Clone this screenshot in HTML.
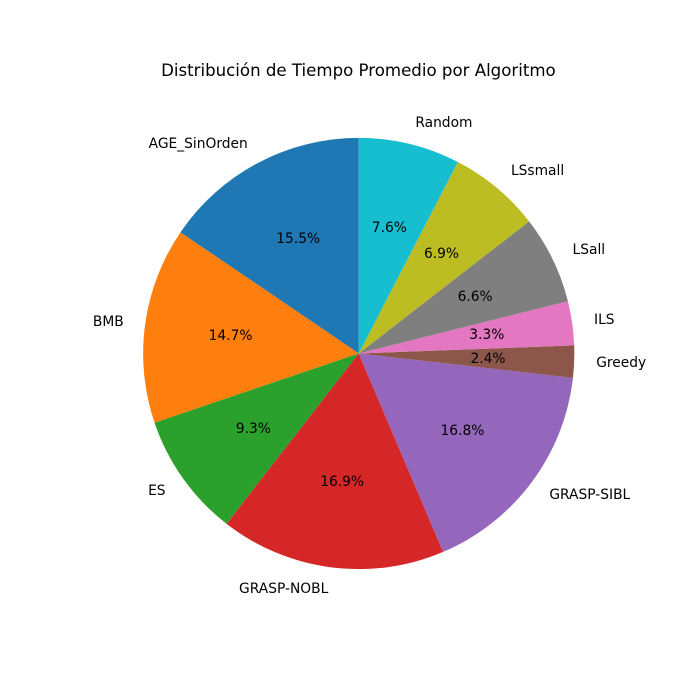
<!DOCTYPE html>
<html>
<head>
<meta charset="utf-8">
<title>Distribución de Tiempo Promedio por Algoritmo</title>
<style>
html,body{margin:0;padding:0;background:#fff;width:700px;height:700px;overflow:hidden}
svg{display:block}
text{font-family:"DejaVu Sans",sans-serif;fill:#000}
</style>
</head>
<body>
<svg id="chart" width="700" height="700" viewBox="0 0 700 700" xmlns="http://www.w3.org/2000/svg">
<rect width="700" height="700" fill="#ffffff"/>
<text x="358.4" y="76" text-anchor="middle" font-size="16.63">Distribución de Tiempo Promedio por Algoritmo</text>
</svg>
<script>
const categories = ["AGE_SinOrden","BMB","ES","GRASP-NOBL","GRASP-SIBL","Greedy","ILS","LSall","LSsmall","Random"];
const values = [15.5,14.7,9.3,16.9,16.8,2.4,3.3,6.6,6.9,7.6];
const colors = ["#1f77b4","#ff7f0e","#2ca02c","#d62728","#9467bd","#8c564b","#e377c2","#7f7f7f","#bcbd22","#17becf"];

const svgNS = "http://www.w3.org/2000/svg";
const svg = document.getElementById("chart");
const cx = 358.75, cy = 353.5, radius = 215.6, startDeg = 90;
const total = values.reduce(function (a, b) { return a + b; }, 0);

function angleFor(v) { return v / total * 2 * Math.PI; }
function px(a, r) { return cx + r * Math.cos(a); }
function py(a, r) { return cy - r * Math.sin(a); }
function baseline(y) { return Math.round(y + 4.2); }

let current = startDeg * Math.PI / 180;
const labelLayer = [];
values.forEach(function (v, i) {
  const sweep = angleFor(v);
  const end = current + sweep;
  const mid = current + sweep / 2;
  const large = sweep > Math.PI ? 1 : 0;
  const slice = document.createElementNS(svgNS, "path");
  slice.setAttribute("d", "M" + cx + " " + cy + "L" + px(current, radius) + " " + py(current, radius) +
    "A" + radius + " " + radius + " 0 " + large + " 0 " + px(end, radius) + " " + py(end, radius) + "Z");
  slice.setAttribute("fill", colors[i]);
  
  
  svg.appendChild(slice);

  const lx = px(mid, radius * 1.1);
  const ly = py(mid, radius * 1.1);
  const label = document.createElementNS(svgNS, "text");
  label.setAttribute("x", lx >= cx ? lx + 0.5 : lx);
  label.setAttribute("y", baseline(ly));
  label.setAttribute("font-size", "13.8");
  label.setAttribute("text-anchor", lx >= cx ? "start" : "end");
  label.textContent = categories[i];
  
  
  labelLayer.push(label);

  const pct = document.createElementNS(svgNS, "text");
  pct.setAttribute("x", px(mid, radius * 0.6));
  pct.setAttribute("y", baseline(py(mid, radius * 0.6)));
  pct.setAttribute("font-size", "13.8");
  pct.setAttribute("text-anchor", "middle");
  pct.textContent = (v / total * 100).toFixed(1) + "%";
  
  
  labelLayer.push(pct);

  current = end;
});
labelLayer.forEach(function (t) { svg.appendChild(t); });
</script>
</body>
</html>
